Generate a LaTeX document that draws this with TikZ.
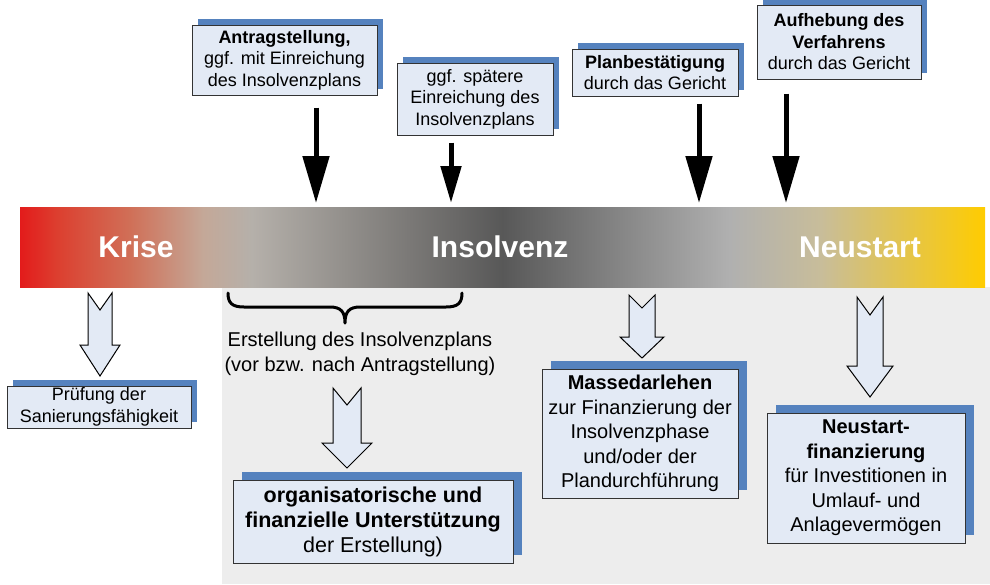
\documentclass[tikz,border=0pt]{standalone}
\usepackage{fontspec}
\setmainfont{Liberation Sans}
\usetikzlibrary{arrows.meta,shadows}
\definecolor{kred}{HTML}{E31B1B}
\definecolor{krA}{HTML}{DC4030}
\definecolor{krB}{HTML}{D07058}
\definecolor{krC}{HTML}{C4A898}
\definecolor{kgA}{HTML}{B5B0AA}
\definecolor{kdark}{HTML}{585858}
\definecolor{kgB}{HTML}{B0B0B0}
\definecolor{kbeige}{HTML}{C8BD9A}
\definecolor{kyel}{HTML}{FFCC00}
\definecolor{bgray}{HTML}{EDEDED}
\definecolor{boxfill}{HTML}{E3EAF5}
\definecolor{shadowblue}{HTML}{5582BE}
\definecolor{boxline}{HTML}{333333}
\pgfdeclarehorizontalshading{bandshade}{100bp}{color(0bp)=(kred); color(25bp)=(kred); color(27bp)=(krA); color(30.75bp)=(krB); color(34.5bp)=(krC); color(37bp)=(kgA); color(50bp)=(kdark); color(61.75bp)=(kgB); color(66.5bp)=(kbeige); color(75bp)=(kyel); color(100bp)=(kyel)}
\newcommand{\hollowarr}[7]{\draw[harrowstyle] (#1-#6,#2) -- (#1,#3) -- (#1+#6,#2) -- (#1+#6,#4) -- (#1+#7,#4) -- (#1,#5) -- (#1-#7,#4) -- (#1-#6,#4) -- cycle;}
\tikzset{
  infobox/.style={rectangle, draw=boxline, line width=1pt, fill=boxfill, inner sep=0pt, align=center, text=black},
  smallshadow/.style={drop shadow={shadow xshift=6pt, shadow yshift=6pt, fill=shadowblue, opacity=1}},
  bigshadow/.style={drop shadow={shadow xshift=9pt, shadow yshift=8pt, fill=shadowblue, opacity=1}},
  topfont/.style={font=\fontsize{18}{21.5}\selectfont},
  botfont/.style={font=\fontsize{20}{24.5}\selectfont},
  bandlabel/.style={text=white, font=\fontsize{30}{34}\selectfont\bfseries},
  bigarr/.style={line width=5pt, -{Triangle[length=47pt,width=26pt]}},
  smallarr/.style={line width=5pt, -{Triangle[length=37pt,width=20pt]}},
  harrowstyle/.style={draw=black, line width=1pt, fill=boxfill, line join=miter},
  bracestyle/.style={draw=black, line width=3pt, line cap=round, line join=round}
}
\begin{document}
\begin{tikzpicture}[x=1pt,y=-1pt]
\useasboundingbox (0,0) rectangle (990,584);
% gray background
\fill[bgray] (222,287) rectangle (990,584);
% band
\node[shade, shading=bandshade, minimum width=965pt, minimum height=80pt, inner sep=0pt] (band) at (502.5,247) {};
\node[bandlabel] (krise) at (136,247) {Krise};
\node[bandlabel] (insolvenz) at (500,247) {Insolvenz};
\node[bandlabel] (neustart) at (860,247) {Neustart};

% top boxes
\node[infobox, smallshadow, topfont, minimum width=185pt, minimum height=70pt] (boxA) at (284.5,60) {\textbf{Antragstellung,}\\ggf. mit Einreichung\\des Insolvenzplans};
\node[infobox, smallshadow, topfont, minimum width=156pt, minimum height=72pt] (boxB) at (475,99) {ggf. spätere\\Einreichung des\\Insolvenzplans};
\node[infobox, smallshadow, topfont, minimum width=166pt, minimum height=47pt] (boxC) at (655,72.5) {\textbf{Planbestätigung}\\durch das Gericht};
\node[infobox, smallshadow, topfont, minimum width=164pt, minimum height=74pt] (boxD) at (839,42) {\textbf{Aufhebung des}\\\textbf{Verfahrens}\\durch das Gericht};

% thin arrows
\coordinate (tA) at (316,203);
\coordinate (tB) at (451,203);
\coordinate (tC) at (699,203);
\coordinate (tD) at (786,203);
\draw[bigarr] ([yshift=-12pt]boxA.south -| tA) -- (tA);
\draw[smallarr] ([yshift=-7pt]boxB.south -| tB) -- (tB);
\draw[bigarr] ([yshift=-7pt]boxC.south -| tC) -- (tC);
\draw[bigarr] ([yshift=-14pt]boxD.south -| tD) -- (tD);

% brace
\draw[bracestyle] (228,293) .. controls (228,303) and (232,307) .. (244,307) -- (330,307) .. controls (341,307) and (345,312) .. (345,323) .. controls (345,312) and (349,307) .. (360,307) -- (446,307) .. controls (458,307) and (462,303) .. (462,293);
\node[font=\fontsize{20}{25}\selectfont, align=center] (erst) at (360,354) {Erstellung des Insolvenzplans\\(vor bzw. nach Antragstellung)};

% hollow arrows
\hollowarr{100}{293}{310}{345}{376}{12}{20}
\hollowarr{347}{388}{405}{443}{468}{14}{25}
\hollowarr{642}{295}{308}{337}{358}{13}{22}
\hollowarr{870}{297}{315}{366}{397}{13}{23}

% bottom boxes
\node[infobox, smallshadow, topfont, minimum width=184pt, minimum height=42pt] (boxP) at (99,407) {Prüfung der\\Sanierungsfähigkeit};
\node[infobox, bigshadow, font=\fontsize{21.5}{25}\selectfont, minimum width=280pt, minimum height=83pt] (boxO) at (373,521.5) {\textbf{organisatorische und}\\\textbf{finanzielle Unterstützung}\\der Erstellung)};
\node[infobox, bigshadow, botfont, minimum width=196pt, minimum height=129pt] (boxM) at (640,433.5) {\textbf{Massedarlehen}\\zur Finanzierung der\\Insolvenzphase\\und/oder der\\Plandurchführung};
\node[infobox, bigshadow, botfont, minimum width=198pt, minimum height=130pt] (boxN) at (866,478) {\textbf{Neustart-}\\\textbf{finanzierung}\\für Investitionen in\\Umlauf- und\\Anlagevermögen};
\end{tikzpicture}
\end{document}
